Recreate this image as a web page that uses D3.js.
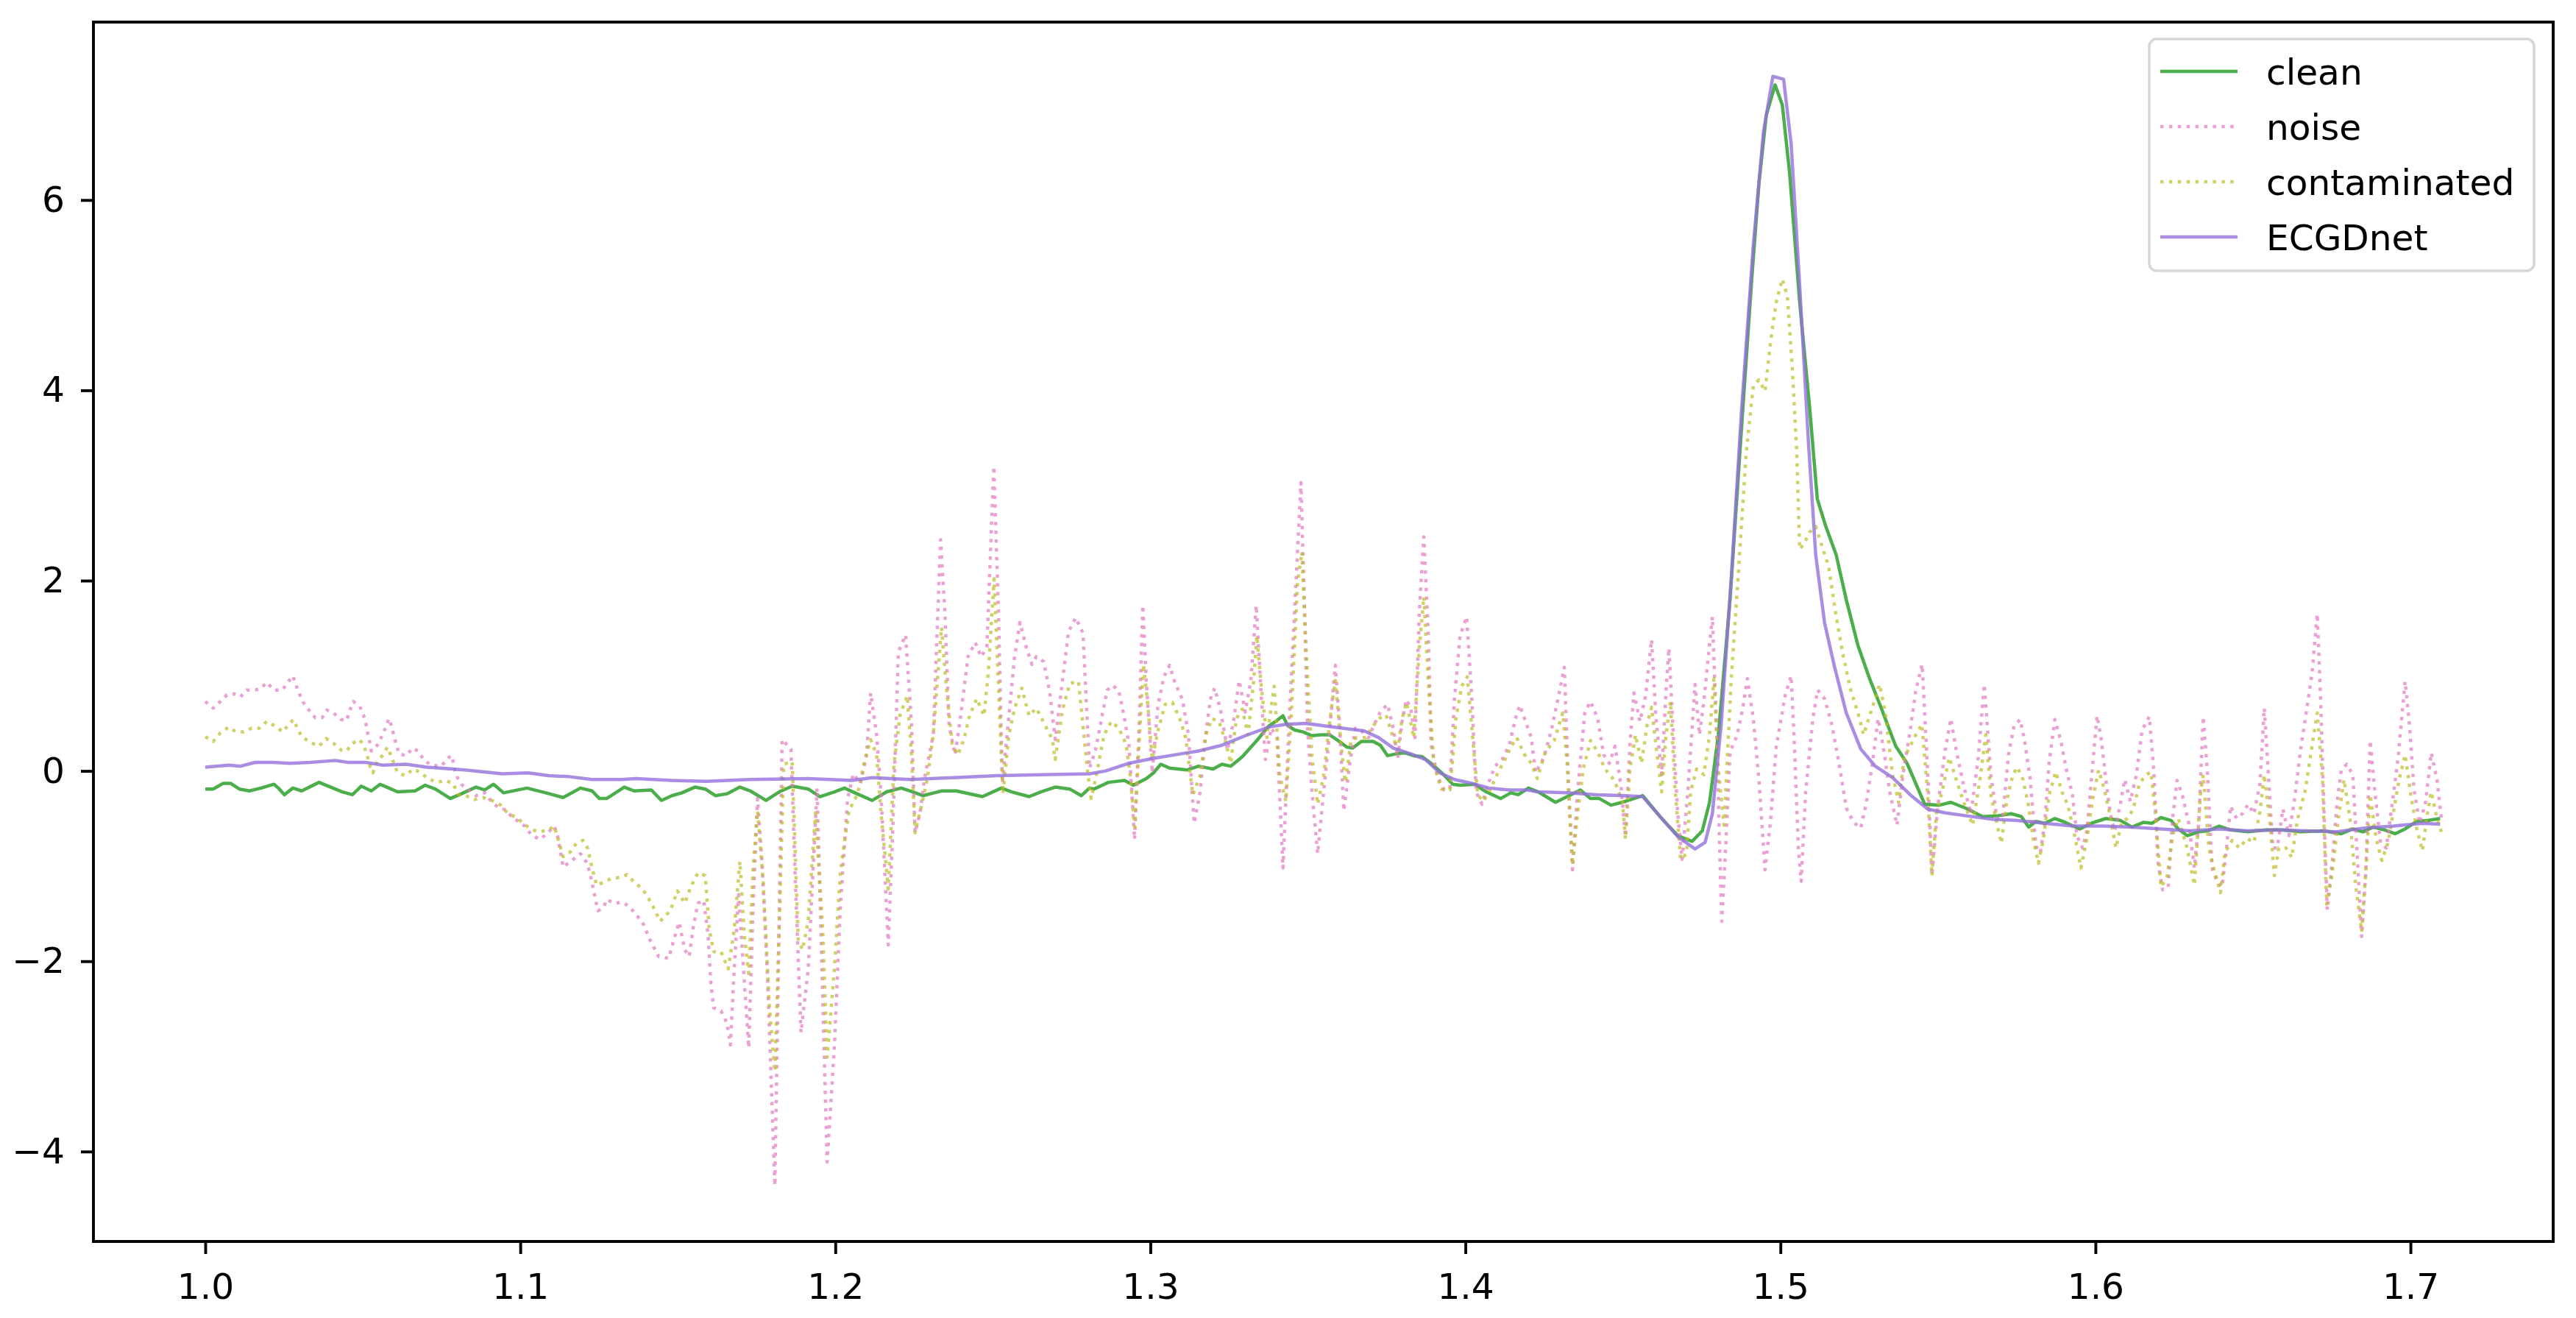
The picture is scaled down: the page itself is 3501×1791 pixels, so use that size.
<!DOCTYPE html>
<html>
<head>
<meta charset="utf-8">
<script src="https://cdn.jsdelivr.net/npm/d3@7"></script>
<style>
  html, body { margin: 0; padding: 0; background: #fff; }
  text { font-family: "DejaVu Sans", sans-serif; }
</style>
</head>
<body>
<div id="chart"></div>
<script>
// picture size
let svgWidth = 3501;
let svgHeight = 1791;

// axes box, in pixels
let box = { left: 127, right: 3470, top: 30, bottom: 1687 };

let fontSize = 48.6;

// series: [time (s), value]
const cleanData = [[1.0000,-0.19],[1.0025,-0.19],[1.0057,-0.13],[1.0080,-0.13],[1.0108,-0.19],[1.0140,-0.21],[1.0177,-0.18],[1.0218,-0.14],[1.0232,-0.18],[1.0251,-0.25],[1.0278,-0.18],[1.0306,-0.21],[1.0361,-0.12],[1.0398,-0.17],[1.0435,-0.22],[1.0467,-0.25],[1.0495,-0.16],[1.0527,-0.21],[1.0555,-0.14],[1.0583,-0.18],[1.0610,-0.22],[1.0666,-0.21],[1.0698,-0.15],[1.0730,-0.19],[1.0778,-0.29],[1.0813,-0.24],[1.0859,-0.17],[1.0887,-0.20],[1.0915,-0.14],[1.0947,-0.23],[1.1021,-0.18],[1.1081,-0.23],[1.1136,-0.28],[1.1191,-0.18],[1.1228,-0.21],[1.1251,-0.29],[1.1274,-0.29],[1.1330,-0.17],[1.1361,-0.21],[1.1416,-0.20],[1.1448,-0.31],[1.1481,-0.26],[1.1513,-0.23],[1.1554,-0.17],[1.1587,-0.19],[1.1619,-0.26],[1.1656,-0.24],[1.1697,-0.17],[1.1730,-0.21],[1.1780,-0.31],[1.1822,-0.22],[1.1863,-0.16],[1.1914,-0.19],[1.1951,-0.27],[1.1997,-0.22],[1.2029,-0.18],[1.2062,-0.23],[1.2117,-0.31],[1.2163,-0.22],[1.2209,-0.18],[1.2246,-0.22],[1.2278,-0.26],[1.2338,-0.21],[1.2384,-0.21],[1.2467,-0.27],[1.2527,-0.18],[1.2560,-0.22],[1.2615,-0.27],[1.2652,-0.22],[1.2698,-0.17],[1.2744,-0.19],[1.2781,-0.26],[1.2807,-0.18],[1.2821,-0.19],[1.2867,-0.12],[1.2918,-0.10],[1.2946,-0.15],[1.2987,-0.08],[1.3010,-0.02],[1.3033,0.07],[1.3061,0.03],[1.3116,0.01],[1.3153,0.05],[1.3199,0.02],[1.3227,0.07],[1.3255,0.05],[1.3292,0.15],[1.3338,0.32],[1.3375,0.47],[1.3402,0.53],[1.3421,0.58],[1.3435,0.48],[1.3458,0.43],[1.3485,0.41],[1.3513,0.37],[1.3541,0.38],[1.3568,0.38],[1.3591,0.33],[1.3624,0.25],[1.3642,0.24],[1.3670,0.31],[1.3707,0.31],[1.3730,0.27],[1.3753,0.16],[1.3780,0.18],[1.3808,0.19],[1.3836,0.16],[1.3863,0.15],[1.3891,0.08],[1.3928,-0.03],[1.3960,-0.14],[1.3983,-0.15],[1.4029,-0.14],[1.4066,-0.22],[1.4112,-0.29],[1.4144,-0.23],[1.4168,-0.25],[1.4200,-0.18],[1.4231,-0.22],[1.4286,-0.33],[1.4323,-0.27],[1.4365,-0.20],[1.4397,-0.29],[1.4425,-0.29],[1.4462,-0.36],[1.4508,-0.32],[1.4563,-0.26],[1.4618,-0.48],[1.4674,-0.68],[1.4720,-0.74],[1.4752,-0.63],[1.4775,-0.33],[1.4803,0.38],[1.4840,1.80],[1.4877,3.63],[1.4909,5.17],[1.4932,6.18],[1.4955,6.89],[1.4983,7.21],[1.5006,7.00],[1.5029,6.29],[1.5061,4.93],[1.5093,3.81],[1.5117,2.86],[1.5144,2.57],[1.5177,2.27],[1.5209,1.80],[1.5246,1.32],[1.5283,0.97],[1.5319,0.67],[1.5366,0.26],[1.5402,0.08],[1.5458,-0.35],[1.5504,-0.36],[1.5541,-0.33],[1.5587,-0.39],[1.5642,-0.48],[1.5692,-0.47],[1.5733,-0.45],[1.5765,-0.48],[1.5788,-0.59],[1.5811,-0.53],[1.5839,-0.55],[1.5871,-0.50],[1.5904,-0.54],[1.5950,-0.61],[1.5987,-0.55],[1.6033,-0.50],[1.6079,-0.52],[1.6116,-0.59],[1.6153,-0.54],[1.6180,-0.55],[1.6208,-0.49],[1.6240,-0.52],[1.6263,-0.61],[1.6291,-0.68],[1.6328,-0.64],[1.6356,-0.63],[1.6393,-0.58],[1.6429,-0.62],[1.6485,-0.64],[1.6540,-0.62],[1.6595,-0.62],[1.6651,-0.64],[1.6725,-0.63],[1.6780,-0.66],[1.6817,-0.61],[1.6849,-0.64],[1.6881,-0.59],[1.6918,-0.62],[1.6951,-0.66],[1.6983,-0.61],[1.7020,-0.53],[1.7057,-0.52],[1.7094,-0.50]];

const noiseData = [[1.0000,0.73],[1.0025,0.66],[1.0048,0.73],[1.0069,0.80],[1.0092,0.81],[1.0112,0.78],[1.0131,0.85],[1.0154,0.85],[1.0175,0.86],[1.0195,0.93],[1.0218,0.85],[1.0244,0.85],[1.0262,0.93],[1.0278,1.00],[1.0287,0.91],[1.0299,0.81],[1.0311,0.72],[1.0329,0.64],[1.0349,0.56],[1.0371,0.56],[1.0386,0.64],[1.0407,0.61],[1.0431,0.54],[1.0449,0.53],[1.0458,0.63],[1.0470,0.73],[1.0490,0.68],[1.0502,0.59],[1.0511,0.48],[1.0516,0.39],[1.0523,0.29],[1.0527,0.21],[1.0546,0.27],[1.0560,0.36],[1.0573,0.46],[1.0583,0.55],[1.0590,0.48],[1.0599,0.37],[1.0606,0.28],[1.0615,0.18],[1.0638,0.16],[1.0658,0.24],[1.0675,0.21],[1.0693,0.12],[1.0716,0.06],[1.0749,0.05],[1.0772,0.14],[1.0784,0.16],[1.0790,0.03],[1.0799,-0.06],[1.0813,-0.14],[1.0836,-0.20],[1.0859,-0.26],[1.0887,-0.23],[1.0910,-0.33],[1.0933,-0.39],[1.0956,-0.41],[1.0970,-0.47],[1.0993,-0.53],[1.1014,-0.58],[1.1035,-0.67],[1.1062,-0.72],[1.1085,-0.66],[1.1107,-0.58],[1.1118,-0.68],[1.1127,-0.84],[1.1136,-1.01],[1.1164,-0.94],[1.1191,-0.87],[1.1210,-0.96],[1.1221,-1.07],[1.1233,-1.26],[1.1239,-1.36],[1.1247,-1.47],[1.1265,-1.43],[1.1274,-1.35],[1.1298,-1.39],[1.1325,-1.38],[1.1348,-1.43],[1.1367,-1.51],[1.1388,-1.59],[1.1411,-1.77],[1.1439,-1.95],[1.1471,-1.97],[1.1485,-1.80],[1.1504,-1.59],[1.1522,-1.88],[1.1536,-1.95],[1.1550,-1.62],[1.1564,-1.39],[1.1582,-1.36],[1.1596,-1.72],[1.1605,-2.24],[1.1614,-2.49],[1.1637,-2.52],[1.1656,-2.65],[1.1667,-2.88],[1.1679,-2.08],[1.1693,-1.30],[1.1725,-2.91],[1.1739,-1.42],[1.1753,-0.29],[1.1767,-0.95],[1.1785,-2.18],[1.1808,-4.36],[1.1831,0.33],[1.1859,0.23],[1.1873,-1.16],[1.1891,-2.75],[1.1914,-2.08],[1.1942,-0.18],[1.1974,-4.11],[1.1997,-2.90],[1.2016,-1.42],[1.2039,-0.29],[1.2057,-0.03],[1.2080,-0.13],[1.2099,0.17],[1.2112,0.82],[1.2131,0.38],[1.2145,-0.24],[1.2168,-1.83],[1.2182,-0.65],[1.2200,1.25],[1.2223,1.43],[1.2242,0.48],[1.2253,-0.65],[1.2269,-0.44],[1.2283,-0.08],[1.2311,0.38],[1.2334,2.43],[1.2348,1.66],[1.2361,0.48],[1.2380,0.17],[1.2398,0.58],[1.2421,1.20],[1.2444,1.35],[1.2463,1.20],[1.2481,1.30],[1.2503,3.20],[1.2518,1.66],[1.2530,-0.13],[1.2551,0.58],[1.2569,1.20],[1.2586,1.56],[1.2606,1.30],[1.2624,1.12],[1.2638,1.20],[1.2661,1.15],[1.2680,0.84],[1.2698,0.33],[1.2717,0.84],[1.2740,1.46],[1.2763,1.61],[1.2786,1.45],[1.2807,0.03],[1.2826,0.22],[1.2849,0.62],[1.2863,0.85],[1.2881,0.90],[1.2900,0.84],[1.2918,0.55],[1.2932,0.28],[1.2950,-0.72],[1.2964,0.45],[1.2976,1.74],[1.2987,0.95],[1.3006,-0.02],[1.3024,0.69],[1.3043,0.99],[1.3061,1.11],[1.3079,0.92],[1.3102,0.75],[1.3121,0.38],[1.3139,-0.55],[1.3158,-0.22],[1.3172,0.28],[1.3190,0.75],[1.3204,0.87],[1.3222,0.65],[1.3245,0.22],[1.3264,0.52],[1.3282,0.95],[1.3301,0.62],[1.3319,0.95],[1.3336,1.74],[1.3352,0.79],[1.3365,0.12],[1.3384,0.45],[1.3402,0.35],[1.3421,-1.02],[1.3439,0.42],[1.3462,1.96],[1.3478,3.03],[1.3490,1.62],[1.3499,0.45],[1.3513,-0.22],[1.3531,-0.87],[1.3550,-0.22],[1.3568,0.38],[1.3587,1.11],[1.3600,0.52],[1.3614,-0.42],[1.3633,0.08],[1.3651,0.45],[1.3670,0.42],[1.3693,0.35],[1.3711,0.49],[1.3730,0.62],[1.3753,0.70],[1.3771,0.45],[1.3785,0.13],[1.3799,0.52],[1.3813,0.75],[1.3827,0.65],[1.3840,0.35],[1.3854,1.69],[1.3868,2.46],[1.3882,1.46],[1.3891,0.28],[1.3910,-0.05],[1.3933,-0.20],[1.3951,-0.18],[1.3965,0.75],[1.3983,1.42],[1.4004,1.62],[1.4020,0.79],[1.4034,-0.22],[1.4053,-0.35],[1.4071,-0.15],[1.4094,0.05],[1.4117,0.12],[1.4140,0.28],[1.4159,0.55],[1.4172,0.69],[1.4191,0.52],[1.4209,0.35],[1.4223,-0.02],[1.4249,0.14],[1.4273,0.43],[1.4296,0.79],[1.4314,1.09],[1.4328,-0.22],[1.4340,-1.04],[1.4356,-0.22],[1.4379,0.61],[1.4397,0.73],[1.4420,0.55],[1.4439,0.17],[1.4457,0.08],[1.4475,0.26],[1.4494,-0.16],[1.4508,-0.69],[1.4522,0.26],[1.4535,0.82],[1.4554,0.52],[1.4572,0.79],[1.4591,1.38],[1.4605,0.55],[1.4623,-0.04],[1.4637,0.85],[1.4646,1.29],[1.4660,0.38],[1.4674,-0.45],[1.4688,-0.93],[1.4706,-0.22],[1.4729,0.91],[1.4743,0.38],[1.4757,0.73],[1.4771,1.20],[1.4784,1.62],[1.4798,0.38],[1.4808,-0.93],[1.4814,-1.58],[1.4826,-0.81],[1.4840,0.20],[1.4863,0.38],[1.4881,0.67],[1.4895,0.97],[1.4914,0.55],[1.4932,-0.10],[1.4951,-1.04],[1.4969,-0.51],[1.4987,0.26],[1.5015,0.79],[1.5034,1.00],[1.5043,0.38],[1.5057,-0.81],[1.5066,-1.16],[1.5080,-0.22],[1.5103,0.55],[1.5118,0.85],[1.5140,0.76],[1.5163,0.49],[1.5186,0.08],[1.5209,-0.39],[1.5232,-0.54],[1.5255,-0.60],[1.5273,-0.33],[1.5292,0.08],[1.5310,0.55],[1.5329,0.20],[1.5347,-0.22],[1.5370,-0.57],[1.5389,-0.04],[1.5412,0.43],[1.5430,0.85],[1.5450,1.12],[1.5467,0.02],[1.5481,-1.10],[1.5499,-0.39],[1.5522,0.20],[1.5541,0.55],[1.5559,0.20],[1.5582,-0.16],[1.5605,-0.45],[1.5628,0.14],[1.5647,0.91],[1.5668,-0.04],[1.5687,-0.50],[1.5705,-0.50],[1.5724,0.17],[1.5742,0.48],[1.5761,0.54],[1.5775,0.32],[1.5793,-0.09],[1.5811,-0.79],[1.5825,-0.86],[1.5839,-0.55],[1.5853,0.09],[1.5871,0.54],[1.5890,0.32],[1.5908,0.01],[1.5927,-0.25],[1.5941,-0.68],[1.5959,-0.81],[1.5973,-0.63],[1.5987,-0.09],[1.6005,0.58],[1.6019,0.32],[1.6033,-0.09],[1.6047,-0.45],[1.6061,-0.63],[1.6079,-0.35],[1.6093,-0.09],[1.6111,-0.32],[1.6130,-0.04],[1.6148,0.43],[1.6171,0.57],[1.6185,0.01],[1.6199,-0.97],[1.6213,-1.25],[1.6231,-1.22],[1.6245,-0.50],[1.6259,-0.10],[1.6277,-0.27],[1.6296,-0.55],[1.6314,-1.02],[1.6328,-0.55],[1.6342,0.57],[1.6356,-0.04],[1.6370,-1.02],[1.6388,-1.17],[1.6402,-1.22],[1.6416,-0.81],[1.6429,-0.37],[1.6448,-0.50],[1.6466,-0.45],[1.6485,-0.35],[1.6503,-0.45],[1.6522,-0.14],[1.6536,0.66],[1.6549,-0.04],[1.6563,-0.81],[1.6577,-0.81],[1.6595,-0.40],[1.6614,-0.68],[1.6632,-0.30],[1.6651,0.22],[1.6669,0.61],[1.6688,1.04],[1.6704,1.65],[1.6715,0.73],[1.6729,-0.81],[1.6736,-1.46],[1.6752,-0.94],[1.6766,-0.37],[1.6780,0.01],[1.6798,0.07],[1.6817,-0.04],[1.6831,-0.89],[1.6845,-1.74],[1.6858,-1.07],[1.6872,0.32],[1.6886,-0.19],[1.6905,-0.76],[1.6923,-0.81],[1.6941,-0.37],[1.6960,0.12],[1.6983,0.94],[1.6997,0.48],[1.7011,-0.19],[1.7029,-0.55],[1.7047,-0.35],[1.7066,0.19],[1.7084,-0.09],[1.7098,-0.50]];

const contaminatedData = [[1.0000,0.36],[1.0025,0.31],[1.0048,0.40],[1.0074,0.46],[1.0098,0.41],[1.0122,0.41],[1.0147,0.45],[1.0172,0.45],[1.0195,0.52],[1.0223,0.47],[1.0246,0.41],[1.0265,0.49],[1.0280,0.54],[1.0292,0.45],[1.0306,0.36],[1.0334,0.30],[1.0361,0.26],[1.0384,0.34],[1.0407,0.29],[1.0431,0.22],[1.0449,0.21],[1.0467,0.29],[1.0490,0.33],[1.0504,0.26],[1.0514,0.16],[1.0523,0.05],[1.0532,-0.02],[1.0546,0.10],[1.0564,0.17],[1.0578,0.25],[1.0587,0.18],[1.0599,0.08],[1.0609,-0.01],[1.0633,-0.05],[1.0661,0.02],[1.0684,-0.02],[1.0707,-0.08],[1.0735,-0.12],[1.0763,-0.10],[1.0786,-0.13],[1.0804,-0.25],[1.0827,-0.26],[1.0855,-0.30],[1.0882,-0.28],[1.0910,-0.31],[1.0938,-0.36],[1.0961,-0.45],[1.0989,-0.49],[1.1012,-0.56],[1.1039,-0.62],[1.1062,-0.64],[1.1090,-0.62],[1.1108,-0.58],[1.1122,-0.74],[1.1136,-0.90],[1.1159,-0.85],[1.1178,-0.76],[1.1199,-0.73],[1.1215,-0.82],[1.1227,-1.01],[1.1242,-1.20],[1.1265,-1.17],[1.1288,-1.13],[1.1316,-1.12],[1.1339,-1.09],[1.1362,-1.17],[1.1388,-1.24],[1.1416,-1.39],[1.1444,-1.58],[1.1476,-1.47],[1.1499,-1.26],[1.1522,-1.39],[1.1541,-1.22],[1.1564,-1.07],[1.1587,-1.10],[1.1600,-1.67],[1.1614,-1.90],[1.1637,-1.90],[1.1660,-2.08],[1.1679,-1.67],[1.1697,-0.95],[1.1711,-1.72],[1.1725,-2.13],[1.1739,-1.01],[1.1753,-0.42],[1.1771,-1.16],[1.1790,-2.44],[1.1808,-3.16],[1.1822,-1.62],[1.1836,0.07],[1.1863,0.10],[1.1882,-1.77],[1.1896,-1.88],[1.1914,-1.57],[1.1937,-0.44],[1.1960,-1.67],[1.1974,-3.01],[1.1997,-2.08],[1.2016,-1.06],[1.2043,-0.42],[1.2071,-0.24],[1.2094,0.12],[1.2112,0.33],[1.2131,0.17],[1.2145,-0.44],[1.2168,-1.24],[1.2186,0.07],[1.2205,0.58],[1.2228,0.79],[1.2242,0.17],[1.2253,-0.65],[1.2274,-0.36],[1.2292,-0.08],[1.2311,0.38],[1.2337,1.51],[1.2352,0.89],[1.2371,0.28],[1.2389,0.17],[1.2408,0.33],[1.2426,0.58],[1.2449,0.76],[1.2472,0.58],[1.2486,1.05],[1.2504,2.02],[1.2518,0.89],[1.2532,-0.24],[1.2551,0.38],[1.2569,0.66],[1.2592,0.87],[1.2615,0.58],[1.2638,0.66],[1.2666,0.48],[1.2689,0.33],[1.2698,0.12],[1.2721,0.64],[1.2744,0.92],[1.2772,0.94],[1.2800,0.02],[1.2812,-0.29],[1.2830,-0.02],[1.2853,0.38],[1.2876,0.52],[1.2900,0.45],[1.2923,0.28],[1.2936,-0.05],[1.2950,-0.59],[1.2964,0.28],[1.2978,1.12],[1.2992,0.69],[1.3006,0.12],[1.3024,0.42],[1.3047,0.70],[1.3070,0.72],[1.3093,0.55],[1.3112,0.35],[1.3135,-0.25],[1.3158,-0.05],[1.3176,0.38],[1.3195,0.55],[1.3218,0.52],[1.3241,0.28],[1.3255,0.08],[1.3273,0.55],[1.3292,0.65],[1.3310,0.38],[1.3328,0.95],[1.3338,1.42],[1.3352,0.89],[1.3370,0.35],[1.3393,0.89],[1.3411,-0.05],[1.3430,-0.32],[1.3448,0.62],[1.3467,1.96],[1.3481,2.30],[1.3494,1.29],[1.3513,0.15],[1.3531,-0.35],[1.3550,-0.05],[1.3573,0.62],[1.3587,0.95],[1.3605,0.28],[1.3619,-0.12],[1.3637,0.32],[1.3656,0.35],[1.3684,0.35],[1.3702,0.45],[1.3725,0.55],[1.3748,0.59],[1.3771,0.35],[1.3785,0.22],[1.3799,0.55],[1.3813,0.72],[1.3836,0.35],[1.3854,1.29],[1.3868,1.83],[1.3882,0.95],[1.3900,0.08],[1.3923,-0.19],[1.3951,-0.20],[1.3970,0.55],[1.3988,0.89],[1.4006,0.99],[1.4025,0.28],[1.4039,-0.25],[1.4057,-0.32],[1.4080,-0.19],[1.4103,-0.02],[1.4126,0.12],[1.4144,0.25],[1.4163,0.35],[1.4186,0.18],[1.4209,0.08],[1.4228,-0.08],[1.4254,0.20],[1.4282,0.32],[1.4309,0.61],[1.4323,0.08],[1.4340,-0.99],[1.4356,-0.45],[1.4374,0.02],[1.4397,0.32],[1.4420,0.20],[1.4443,0.02],[1.4466,-0.07],[1.4480,-0.16],[1.4499,-0.33],[1.4508,-0.72],[1.4522,0.02],[1.4540,0.38],[1.4559,0.08],[1.4577,0.49],[1.4591,0.67],[1.4605,0.26],[1.4623,-0.22],[1.4637,0.38],[1.4651,0.73],[1.4665,-0.16],[1.4683,-0.93],[1.4702,-0.87],[1.4715,-0.22],[1.4734,0.02],[1.4757,-0.04],[1.4775,0.38],[1.4789,0.97],[1.4803,0.02],[1.4821,-0.57],[1.4844,0.97],[1.4868,2.15],[1.4891,3.33],[1.4914,4.05],[1.4932,4.11],[1.4951,3.99],[1.4969,4.52],[1.4987,4.93],[1.5006,5.17],[1.5022,4.99],[1.5038,4.22],[1.5052,3.33],[1.5061,2.33],[1.5075,2.39],[1.5093,2.51],[1.5112,2.57],[1.5135,2.33],[1.5153,2.15],[1.5177,1.62],[1.5200,1.20],[1.5223,0.85],[1.5246,0.61],[1.5264,0.38],[1.5292,0.67],[1.5315,0.91],[1.5333,0.61],[1.5356,-0.04],[1.5375,-0.33],[1.5393,0.14],[1.5412,0.26],[1.5430,0.38],[1.5449,0.49],[1.5467,-0.22],[1.5481,-1.10],[1.5495,-0.45],[1.5513,-0.22],[1.5536,0.14],[1.5559,-0.10],[1.5582,-0.33],[1.5610,-0.57],[1.5633,-0.10],[1.5652,0.38],[1.5668,-0.25],[1.5687,-0.55],[1.5701,-0.76],[1.5719,-0.30],[1.5738,-0.04],[1.5752,0.04],[1.5770,-0.09],[1.5788,-0.37],[1.5802,-0.71],[1.5819,-0.97],[1.5835,-0.71],[1.5853,-0.25],[1.5874,-0.01],[1.5894,-0.22],[1.5913,-0.37],[1.5931,-0.63],[1.5954,-1.02],[1.5973,-0.71],[1.5991,-0.30],[1.6010,0.01],[1.6028,-0.19],[1.6047,-0.48],[1.6065,-0.81],[1.6084,-0.53],[1.6102,-0.50],[1.6120,-0.40],[1.6139,-0.14],[1.6157,-0.05],[1.6176,-0.01],[1.6190,-0.43],[1.6208,-1.22],[1.6227,-1.12],[1.6245,-0.68],[1.6263,-0.50],[1.6291,-0.81],[1.6314,-1.20],[1.6333,-0.25],[1.6342,-0.04],[1.6360,-0.81],[1.6379,-1.07],[1.6397,-1.28],[1.6411,-0.86],[1.6434,-0.73],[1.6457,-0.81],[1.6480,-0.71],[1.6503,-0.75],[1.6522,-0.43],[1.6536,-0.04],[1.6554,-0.55],[1.6568,-1.10],[1.6582,-0.81],[1.6605,-0.81],[1.6623,-0.91],[1.6642,-0.50],[1.6665,-0.22],[1.6688,0.27],[1.6704,0.61],[1.6720,-0.04],[1.6734,-1.40],[1.6752,-1.07],[1.6771,-0.50],[1.6789,-0.09],[1.6808,-0.50],[1.6826,-1.20],[1.6845,-1.69],[1.6858,-1.07],[1.6872,-0.25],[1.6891,-0.71],[1.6909,-0.94],[1.6928,-0.76],[1.6946,-0.43],[1.6964,-0.09],[1.6983,0.17],[1.7001,-0.25],[1.7020,-0.61],[1.7038,-0.84],[1.7052,-0.48],[1.7066,-0.22],[1.7084,-0.50],[1.7098,-0.64]];

const ecgdnetData = [[1.0000,0.04],[1.0075,0.06],[1.0112,0.05],[1.0158,0.09],[1.0214,0.09],[1.0269,0.08],[1.0334,0.09],[1.0412,0.11],[1.0454,0.09],[1.0509,0.09],[1.0564,0.06],[1.0638,0.07],[1.0703,0.04],[1.0786,0.02],[1.0823,0.01],[1.0887,-0.01],[1.0942,-0.03],[1.1025,-0.02],[1.1090,-0.05],[1.1155,-0.06],[1.1228,-0.09],[1.1321,-0.09],[1.1367,-0.08],[1.1480,-0.10],[1.1591,-0.11],[1.1730,-0.09],[1.1914,-0.08],[1.2052,-0.10],[1.2117,-0.07],[1.2237,-0.09],[1.2375,-0.07],[1.2514,-0.05],[1.2652,-0.04],[1.2807,-0.03],[1.2858,0.00],[1.2932,0.08],[1.3006,0.13],[1.3079,0.17],[1.3153,0.21],[1.3227,0.27],[1.3301,0.37],[1.3375,0.46],[1.3430,0.49],[1.3494,0.50],[1.3559,0.47],[1.3633,0.44],[1.3679,0.42],[1.3725,0.35],[1.3771,0.24],[1.3827,0.18],[1.3873,0.12],[1.3919,-0.02],[1.3965,-0.09],[1.4020,-0.13],[1.4075,-0.18],[1.4140,-0.20],[1.4196,-0.20],[1.4231,-0.22],[1.4323,-0.23],[1.4416,-0.25],[1.4508,-0.26],[1.4563,-0.27],[1.4618,-0.48],[1.4674,-0.69],[1.4729,-0.82],[1.4761,-0.75],[1.4784,-0.45],[1.4812,0.49],[1.4844,2.03],[1.4877,3.81],[1.4914,5.53],[1.4946,6.71],[1.4976,7.30],[1.5010,7.27],[1.5034,6.59],[1.5061,5.11],[1.5089,3.45],[1.5112,2.27],[1.5140,1.56],[1.5172,1.09],[1.5209,0.61],[1.5255,0.23],[1.5301,0.05],[1.5356,-0.07],[1.5412,-0.25],[1.5467,-0.40],[1.5522,-0.44],[1.5587,-0.47],[1.5677,-0.51],[1.5747,-0.52],[1.5839,-0.55],[1.5931,-0.58],[1.6024,-0.58],[1.6116,-0.59],[1.6208,-0.61],[1.6300,-0.63],[1.6393,-0.61],[1.6485,-0.63],[1.6577,-0.62],[1.6669,-0.63],[1.6762,-0.64],[1.6854,-0.60],[1.6946,-0.58],[1.7038,-0.55],[1.7094,-0.56]];

const seriesNames = ['clean', 'noise', 'contaminated', 'ECGDnet'];
const xTicks = [1.0, 1.1, 1.2, 1.3, 1.4, 1.5, 1.6, 1.7];
const yTicks = [-4, -2, 0, 2, 4, 6];
const xDomain = [0.9645, 1.7453];
const yDomain = [-4.945, 7.870];

// line look for each series
let styles = {
    clean:        { color: '#2ca02c', opacity: 0.85, dash: null },
    noise:        { color: '#e377c2', opacity: 0.7,  dash: '4.5,7.4' },
    contaminated: { color: '#bcbd22', opacity: 0.7,  dash: '4.5,7.4' },
    ECGDnet:      { color: '#9370db', opacity: 0.8,  dash: null },
};
let lineWidth = 4.5;

let seriesData = {
    clean: cleanData,
    noise: noiseData,
    contaminated: contaminatedData,
    ECGDnet: ecgdnetData,
};

let svg = d3.select('#chart')
    .append('svg')
    .attr('width', svgWidth)
    .attr('height', svgHeight)
    .style('background', '#fff');

let xScale = d3.scaleLinear().domain(xDomain).range([box.left, box.right]);
let yScale = d3.scaleLinear().domain(yDomain).range([box.bottom, box.top]);

svg.append('clipPath')
    .attr('id', 'plotClip')
  .append('rect')
    .attr('x', box.left)
    .attr('y', box.top)
    .attr('width', box.right - box.left)
    .attr('height', box.bottom - box.top);

let line = d3.line()
    .x(d => xScale(d[0]))
    .y(d => yScale(d[1]));

// data lines, in plotting order
let plotGroup = svg.append('g').attr('clip-path', 'url(#plotClip)');
seriesNames.forEach(function(name) {
    let s = styles[name];
    plotGroup.append('path')
      .datum(seriesData[name])
      .attr('d', line)
      .attr('fill', 'none')
      .attr('stroke', s.color)
      .attr('stroke-opacity', s.opacity)
      .attr('stroke-width', lineWidth)
      .attr('stroke-linejoin', 'round')
      .attr('stroke-dasharray', s.dash);
});

// axes
let xAxis = svg.append('g')
    .attr('transform', `translate(0, ${box.bottom})`)
    .call(d3.axisBottom(xScale).tickValues(xTicks).tickFormat(d3.format('.1f')).tickSize(17).tickPadding(17));

let yAxis = svg.append('g')
    .attr('transform', `translate(${box.left}, 0)`)
    .call(d3.axisLeft(yScale).tickValues(yTicks).tickFormat(d3.format('d')).tickSize(17).tickPadding(22));

[xAxis, yAxis].forEach(function(ax) {
    ax.select('.domain').remove();
    ax.selectAll('.tick line').attr('stroke', '#000').attr('stroke-width', 3.9);
    ax.selectAll('.tick text')
      .attr('fill', '#000')
      .style('font-family', '"DejaVu Sans", sans-serif')
      .style('font-size', fontSize + 'px');
});
xAxis.selectAll('.tick text').attr('y', 43);

// frame
svg.append('rect')
    .attr('x', box.left)
    .attr('y', box.top)
    .attr('width', box.right - box.left)
    .attr('height', box.bottom - box.top)
    .attr('fill', 'none')
    .attr('stroke', '#000')
    .attr('stroke-width', 3.9);

// legend
let legend = svg.append('g');
legend.append('rect')
    .attr('x', 2921)
    .attr('y', 53)
    .attr('width', 523)
    .attr('height', 315)
    .attr('rx', 10)
    .attr('fill', '#fff')
    .attr('fill-opacity', 0.8)
    .attr('stroke', '#d6d6d6')
    .attr('stroke-width', 3.5);

seriesNames.forEach(function(name, i) {
    let s = styles[name];
    let rowY = 97 + i * 75;
    legend.append('line')
      .attr('x1', 2936)
      .attr('x2', 3041)
      .attr('y1', rowY)
      .attr('y2', rowY)
      .attr('stroke', s.color)
      .attr('stroke-opacity', s.opacity)
      .attr('stroke-width', lineWidth)
      .attr('stroke-dasharray', s.dash);
    legend.append('text')
      .attr('x', 3080)
      .attr('y', rowY + 18)
      .style('font-size', fontSize + 'px')
      .attr('fill', '#000')
      .text(name);
});
</script>
</body>
</html>
